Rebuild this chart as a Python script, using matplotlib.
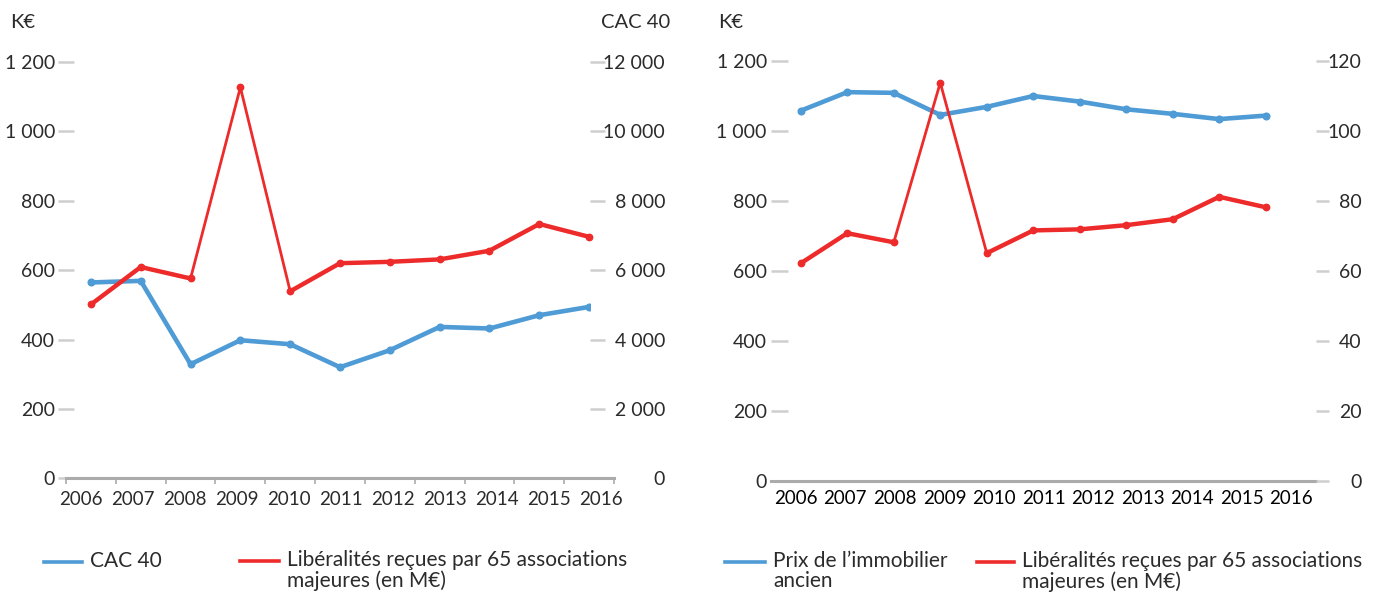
import numpy as np
import matplotlib.pyplot as plt
from matplotlib.lines import Line2D

plt.rcParams['font.family'] = ['Lato', 'DejaVu Sans']
plt.rcParams['font.size'] = 14

# données
years = ['2006', '2007', '2008', '2009', '2010', '2011',
         '2012', '2013', '2014', '2015', '2016']
cac40 = [5645, 5691, 3288, 3980, 3865, 3202, 3692, 4364, 4318, 4701, 4941]
dons_cac = [501, 609, 576, 1127, 539, 620, 624, 631, 656, 733, 696]
immo = [105.8, 111.1, 110.9, 104.6, 106.9, 110.0, 108.4, 106.2, 104.9, 103.4, 104.4]
dons_immo = [622, 708, 682, 1138, 651, 716, 719, 731, 748, 812, 782]
ke_ticks = [0, 200, 400, 600, 800, 1000, 1200]
cac_ticks = [0, 2000, 4000, 6000, 8000, 10000, 12000]
immo_ticks = [0, 20, 40, 60, 80, 100, 120]
pic = '2009'   # année du pic (segments plus fins)

BLUE = '#4f9bd6'
RED = '#ee2b2b'
TXT = '#2b2b2b'
TICK = '#cfcfcf'
AXE = '#ababab'
W, H = 1378, 592
n = len(years)


def fmt(v):
    return '{:,}'.format(v).replace(',', ' ')


def px(x, y):
    return x / W, 1 - y / H


def style_base(ax):
    for s in ['top', 'right', 'left']:
        ax.spines[s].set_visible(False)
    ax.spines['bottom'].set_color(AXE)
    ax.spines['bottom'].set_linewidth(2.2)
    ax.set_xlim(-0.5, n - 0.5)
    ax.set_ylim(0, 1300)
    ax.set_yticks(ke_ticks)
    ax.set_yticklabels([fmt(v) for v in ke_ticks])
    ax.set_xticks(np.arange(n))
    ax.set_xticklabels(years, fontsize=13.5)
    ax.tick_params(axis='y', colors=TICK, labelcolor=TXT, width=1.8, length=9)
    ax.patch.set_visible(False)


def red_line(ax, x, vals):
    # trait fin partout, plus épais hors du pic
    thick = np.ma.masked_array(vals, mask=[y == pic for y in years])
    ax.plot(x, vals, color=RED, lw=2.0, marker='o', ms=4.6, zorder=3)
    ax.plot(x, thick, color=RED, lw=3.2, solid_capstyle='round', zorder=3)


def legend_item(x0, x1, y, color, label):
    fig.add_artist(Line2D([x0 / W, x1 / W], [1 - y / H, 1 - y / H],
                          color=color, lw=2.6))
    fig.text((x1 + 8) / W, 1 - (y - 11) / H, label, color=TXT, fontsize=15,
             va='top', ha='left', linespacing=1.0)


fig = plt.figure(figsize=(W / 100, H / 100), dpi=100)

# ---- graphique de gauche : CAC 40 ----
cat_px = 548 / n    # largeur d'une catégorie en pixels
rect_g = [66 / W, (H - 478.3) / H, 548 / W, 451 / H]
ax_g = fig.add_axes(rect_g)
style_base(ax_g)
ax_g.tick_params(axis='y', direction='inout', length=12, pad=2)
ax_g.tick_params(axis='x', which='major', length=0, labelbottom=False)
# graduations entre les catégories
ax_g.set_xticks(np.arange(n + 1) - 0.5, minor=True)
ax_g.tick_params(axis='x', which='minor', colors=AXE, width=1.2, length=4)

# les années de gauche sont un peu plus espacées que les catégories
ax_lab = fig.add_axes(rect_g)
ax_lab.patch.set_visible(False)
for s in ax_lab.spines.values():
    s.set_visible(False)
ax_lab.set_xlim(-0.283, -0.283 + 548 / 52)
ax_lab.set_xticks(np.arange(n))
ax_lab.set_xticklabels(years, fontsize=13.5, color=TXT)
ax_lab.tick_params(axis='x', length=0, pad=9.5)
ax_lab.set_yticks([])

# axe CAC 40 un peu en retrait à droite, comme sur l'original
rect_cac = [66 / W, (H - 478.3) / H, 524 / W, 451 / H]
ax_cac = fig.add_axes(rect_cac)
for s in ax_cac.spines.values():
    s.set_visible(False)
ax_cac.patch.set_visible(False)
ax_cac.set_xlim(-0.5, -0.5 + 524 / cat_px)
ax_cac.set_ylim(0, 13000)
ax_cac.yaxis.tick_right()
ax_cac.set_yticks(cac_ticks)
ax_cac.set_yticklabels([fmt(v) for v in cac_ticks])
ax_cac.tick_params(axis='y', colors=TICK, labelcolor=TXT, width=1.8,
                   length=11, direction='out', pad=43)
plt.setp(ax_cac.get_yticklabels(), ha='right')
ax_cac.tick_params(axis='x', bottom=False, labelbottom=False)
ax_g.set_zorder(ax_cac.get_zorder() + 1)

x = np.arange(n)
ax_cac.plot(x, cac40, color=BLUE, lw=3.3, marker='o', ms=4.8, zorder=2)
red_line(ax_g, x, dons_cac)

fig.text(*px(10, 23), 'K€', color=TXT, va='center', ha='left', fontsize=14.5)
fig.text(*px(670, 23), 'CAC 40', color=TXT, va='center', ha='right', fontsize=14.5)

# ---- graphique de droite : immobilier ----
rect_d = [771 / W, (H - 481) / H, 545 / W, 455 / H]
ax_d = fig.add_axes(rect_d)
style_base(ax_d)
ax_d.tick_params(axis='y', direction='in', length=12, pad=3)
ax_d.tick_params(axis='x', length=0, pad=6.5)
ax_d2 = ax_d.twinx()
for s in ax_d2.spines.values():
    s.set_visible(False)
ax_d2.set_ylim(0, 130)
ax_d2.set_yticks(immo_ticks)
ax_d2.set_yticklabels([str(v) for v in immo_ticks])
ax_d2.tick_params(axis='y', colors=TICK, labelcolor=TXT, width=1.8,
                  length=9, direction='out', pad=24)
plt.setp(ax_d2.get_yticklabels(), ha='right')

# les courbes de droite sont un peu décalées par rapport aux années
yr = np.array([int(y) for y in years])
ax_immo = fig.add_axes(rect_d)
ax_immo.set_xlim(2005.36, 2017.08)
ax_immo.set_ylim(0, 130)
ax_immo.axis('off')
ax_immo.plot(yr, immo, color=BLUE, lw=3.3, marker='o', ms=4.8)
ax_dons = fig.add_axes(rect_d)
ax_dons.set_xlim(2005.36, 2017.08)
ax_dons.set_ylim(0, 1300)
ax_dons.axis('off')
red_line(ax_dons, yr, dons_immo)

fig.text(*px(718, 23), 'K€', color=TXT, va='center', ha='left', fontsize=14.5)

# ---- légendes ----
legend_item(44, 82, 562, BLUE, 'CAC 40')
legend_item(240, 279, 561, RED, 'Libéralités reçues par 65 associations\nmajeures (en M€)')
legend_item(725, 765, 562, BLUE, 'Prix de l\u2019immobilier\nancien')
legend_item(977, 1014, 562, RED, 'Libéralités reçues par 65 associations\nmajeures (en M€)')

plt.savefig('out.png', dpi=100)
